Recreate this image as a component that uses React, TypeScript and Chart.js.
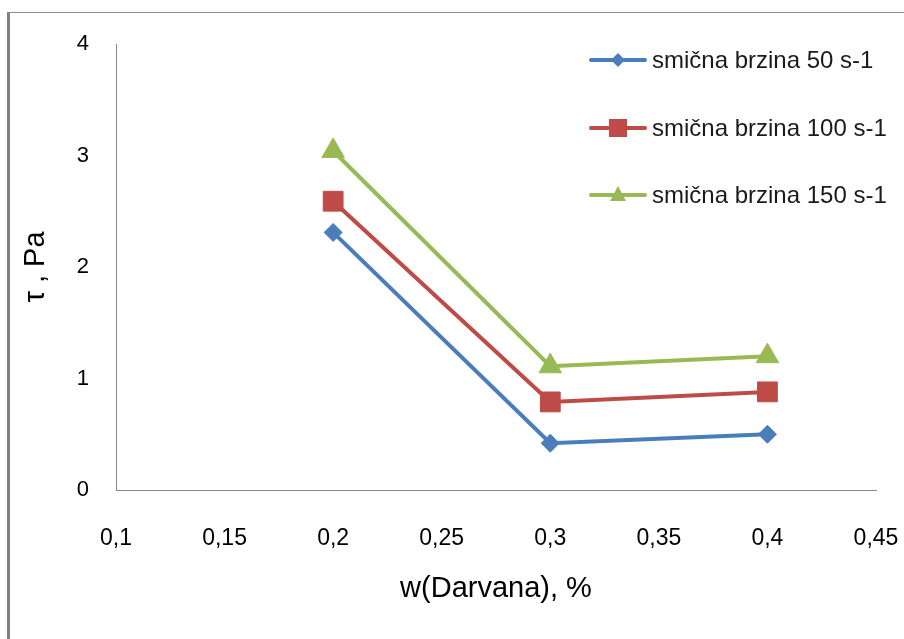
import React, { useEffect, useRef } from "react";
import { Chart, registerables } from "chart.js";

Chart.register(...registerables);

const X_VALUES = [0.2, 0.3, 0.4];
const SERIES_50 = [2.31, 0.42, 0.5];
const SERIES_100 = [2.59, 0.79, 0.88];
const SERIES_150 = [3.04, 1.11, 1.2];
const SERIES_NAMES = ["smična brzina 50 s-1", "smična brzina 100 s-1", "smična brzina 150 s-1"];
const X_TICKS = [0.1, 0.15, 0.2, 0.25, 0.3, 0.35, 0.4, 0.45];
const Y_TICKS = [0, 1, 2, 3, 4];
const X_TITLE = "w(Darvana), %";
const Y_TITLE = "τ , Pa";

const COLORS = ["#4A7EBB", "#BE4B48", "#98B954"];
const STYLES = ["rectRot", "rect", "triangle"];
const RADII = [9, 14, 13];
const FONT = "'Liberation Sans', Arial, sans-serif";

function drawMarker(ctx: CanvasRenderingContext2D, style: string, x: number, y: number, color: string) {
  ctx.save();
  ctx.fillStyle = color;
  ctx.beginPath();
  if (style === "rectRot") {
    const r = 7;
    ctx.moveTo(x, y - r);
    ctx.lineTo(x + r, y);
    ctx.lineTo(x, y + r);
    ctx.lineTo(x - r, y);
  } else if (style === "rect") {
    const h = 9;
    ctx.rect(x - h, y - h, 2 * h, 2 * h);
  } else {
    const w = 8;
    ctx.moveTo(x, y - 9);
    ctx.lineTo(x + w, y + 6);
    ctx.lineTo(x - w, y + 6);
  }
  ctx.closePath();
  ctx.fill();
  ctx.restore();
}

const legendPlugin = {
  id: "customLegend",
  afterDraw(chart: any) {
    const ctx: CanvasRenderingContext2D = chart.ctx;
    const rows = [60, 128, 195];
    ctx.save();
    SERIES_NAMES.forEach((name, i) => {
      const y = rows[i];
      ctx.strokeStyle = COLORS[i];
      ctx.lineWidth = 4;
      ctx.lineCap = "round";
      ctx.beginPath();
      ctx.moveTo(591, y);
      ctx.lineTo(645, y);
      ctx.stroke();
      drawMarker(ctx, STYLES[i], 618, y, COLORS[i]);
      ctx.fillStyle = "#1a1a1a";
      ctx.font = `24px ${FONT}`;
      ctx.textAlign = "left";
      ctx.textBaseline = "middle";
      ctx.fillText(name, 652, y + 1);
    });
    ctx.restore();
  },
};

const whiteBg = {
  id: "whiteBg",
  beforeDraw(chart: any) {
    const ctx = chart.ctx;
    ctx.save();
    ctx.fillStyle = "#ffffff";
    ctx.fillRect(0, 0, chart.width, chart.height);
    ctx.restore();
  },
};

export default function App() {
  const ref = useRef<HTMLCanvasElement>(null);

  useEffect(() => {
    if (!ref.current) return;
    const series = [SERIES_50, SERIES_100, SERIES_150];
    const chart = new Chart(ref.current, {
      type: "line",
      data: {
        datasets: series.map((vals, i) => ({
          label: SERIES_NAMES[i],
          data: X_VALUES.map((x, j) => ({ x, y: vals[j] })),
          borderColor: COLORS[i],
          backgroundColor: COLORS[i],
          borderWidth: 4,
          pointStyle: STYLES[i] as any,
          pointRadius: RADII[i],
          pointBackgroundColor: COLORS[i],
          pointBorderColor: COLORS[i],
          pointBorderWidth: 1,
          tension: 0,
          fill: false,
        })),
      },
      options: {
        animation: false,
        responsive: false,
        layout: { padding: { left: 0, top: 44, right: 28, bottom: 0 } },
        plugins: { legend: { display: false }, tooltip: { enabled: false } },
        scales: {
          x: {
            type: "linear",
            min: 0.1,
            max: 0.45,
            afterBuildTicks: (s: any) => {
              s.ticks = X_TICKS.map((v) => ({ value: v }));
            },
            afterFit: (s: any) => {
              s.height = 149;
              s.paddingLeft = 0;
              s.paddingRight = 0;
            },
            grid: { display: false, drawTicks: false },
            border: { display: true, color: "#868686", width: 1 },
            ticks: {
              font: { family: FONT, size: 23 },
              color: "#000",
              padding: 35,
              maxRotation: 0,
              autoSkip: false,
              callback: (v: any) => String(Math.round(Number(v) * 100) / 100).replace(".", ","),
            },
            title: {
              display: true,
              text: X_TITLE,
              font: { family: FONT, size: 29 },
              color: "#000",
              padding: { top: 0, bottom: 33 },
            },
          },
          y: {
            type: "linear",
            min: 0,
            max: 4,
            afterBuildTicks: (s: any) => {
              s.ticks = Y_TICKS.map((v) => ({ value: v }));
            },
            afterFit: (s: any) => {
              s.width = 116;
              s.paddingTop = 0;
              s.paddingBottom = 0;
            },
            grid: { display: false, drawTicks: false },
            border: { display: true, color: "#868686", width: 1 },
            ticks: {
              font: { family: FONT, size: 22 },
              color: "#000",
              padding: 27,
            },
            title: {
              display: true,
              text: Y_TITLE,
              font: { family: FONT, size: 29 },
              color: "#000",
              padding: { top: 19, bottom: 0 },
            },
          },
        },
      },
      plugins: [whiteBg, legendPlugin],
    });
    return () => chart.destroy();
  }, []);

  return (
    <div style={{ position: "absolute", left: 0, top: 0, width: 904, height: 639, background: "#fff" }}>
      <canvas ref={ref} width={904} height={639} style={{ position: "absolute", left: 0, top: 0 }} />
      <div
        style={{
          position: "absolute",
          left: 7,
          top: 12,
          width: 897,
          height: 627,
          borderLeft: "3px solid #808080",
          borderTop: "1px solid #909090",
          boxSizing: "border-box",
          pointerEvents: "none",
        }}
      />
    </div>
  );
}
